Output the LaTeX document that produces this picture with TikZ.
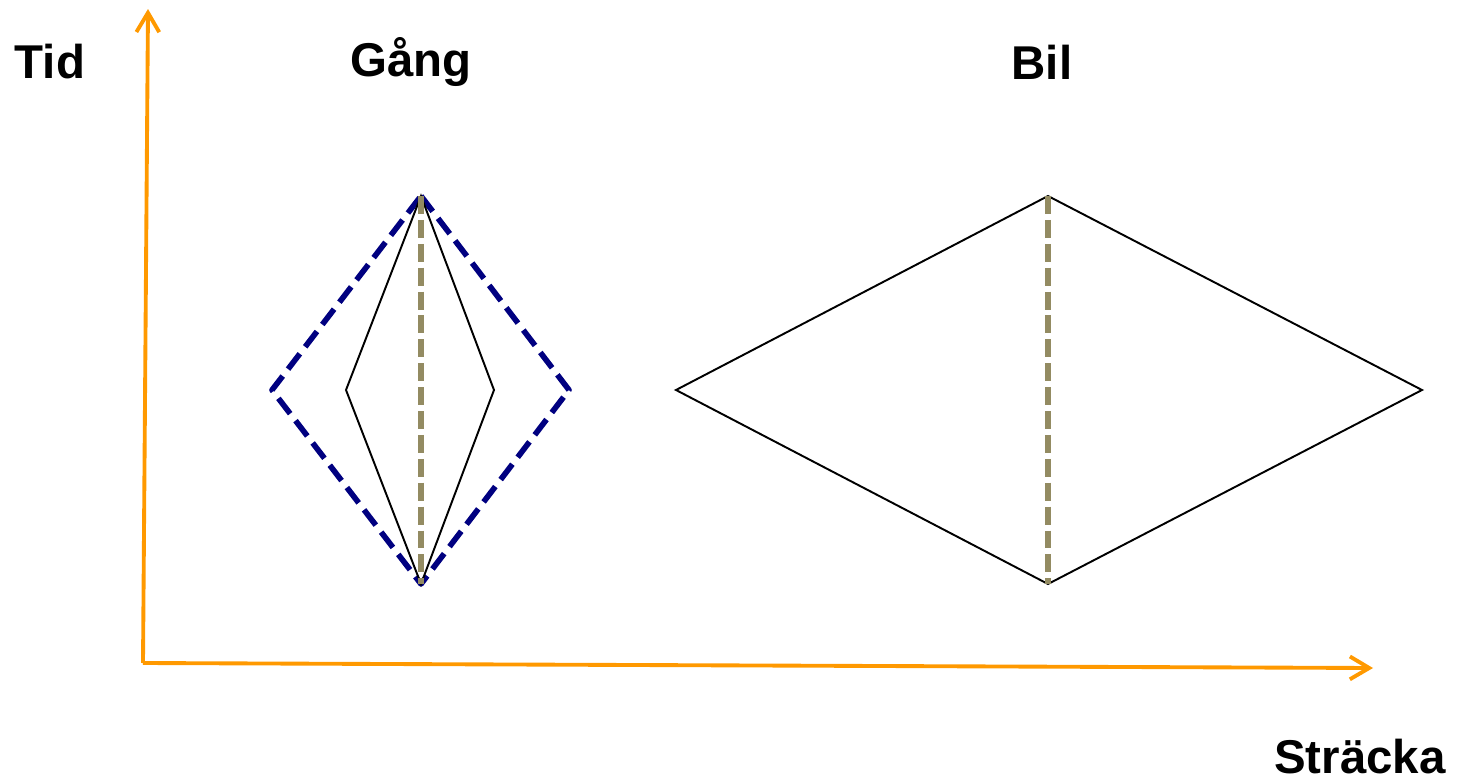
\documentclass[tikz,border=0pt]{standalone}
\usepackage{fontspec}
\setmainfont{Liberation Sans}
\usetikzlibrary{arrows.meta}
\definecolor{axisor}{HTML}{FF9900}
\definecolor{navyd}{HTML}{000080}
\definecolor{olivegr}{HTML}{938B62}
\tikzset{
  axis/.style={draw=axisor, line width=2.2pt, -{Straight Barb[length=11pt,width=13pt]}},
  bluedash/.style={draw=navyd, line width=3.2pt, dash pattern=on 11pt off 5pt, line join=round},
  thinline/.style={draw=black, line width=1.1pt, line join=miter},
  midline/.style={draw=olivegr, line width=3.2pt, dash pattern=on 10.2pt off 3.4pt},
  lbl/.style={font=\fontsize{27}{29}\selectfont\bfseries, inner sep=0pt}
}
\begin{document}
\begin{tikzpicture}[x=0.02cm, y=-0.02cm]
\useasboundingbox (0,0) rectangle (1457,781);
% axes
\coordinate (O) at (143,663);
\coordinate (Ytop) at (148,9);
\coordinate (Xend) at (1373,668);
\draw[axis] (O) -- (Ytop);
\draw[axis] (O) -- (Xend);
% labels
\node[lbl] (tid) at (50,62) {Tid};
\node[lbl] (gang) at (411,62) {Gång};
\node[lbl] (bil) at (1042,62) {Bil};
\node[lbl, anchor=base] (stracka) at (1360,773) {Sträcka};
% Gång diamonds
\coordinate (gT) at (421,196);
\coordinate (gB) at (421,584);
\coordinate (gL) at (272,390);
\coordinate (gR) at (569,390);
\coordinate (iL) at (346,390);
\coordinate (iR) at (494,390);
\draw[bluedash] (gT) -- (gR) -- (gB) -- (gL) -- cycle;
\draw[thinline] (gT) -- (iR) -- (gB) -- (iL) -- cycle;
\draw[midline] (gT) -- (gB);
% Bil diamond
\coordinate (bT) at (1048,196);
\coordinate (bB) at (1048,584);
\coordinate (bL) at (676,390);
\coordinate (bR) at (1422,390);
\draw[thinline] (bT) -- (bR) -- (bB) -- (bL) -- cycle;
\draw[midline] (bT) -- (bB);
\end{tikzpicture}
\end{document}
